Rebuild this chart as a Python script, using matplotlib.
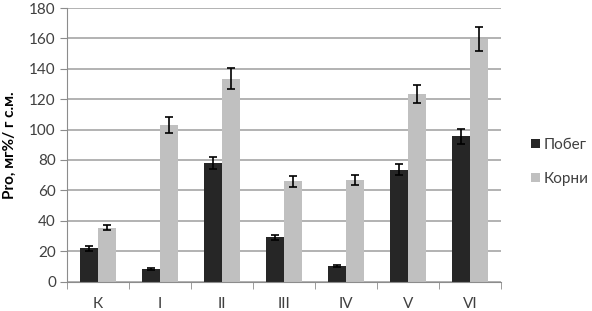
import matplotlib
matplotlib.use("Agg")
import matplotlib.pyplot as plt
import numpy as np

categories = ["К", "I", "II", "III", "IV", "V", "VI"]
pobeg = [22, 8.3, 78, 29, 10.3, 73.5, 95.5]
pobeg_err = [1.6, 0.8, 4.2, 1.5, 0.7, 3.7, 5]
korni = [35.3, 103, 133.5, 66, 67, 123.5, 159.5]
korni_err = [1.7, 5, 6.8, 3.7, 3.3, 6, 8]
yticks = [0, 20, 40, 60, 80, 100, 120, 140, 160, 180]

plt.rcParams['font.family'] = ['Lato', 'DejaVu Sans']

fig = plt.figure(figsize=(5.92, 3.11), dpi=100)
ax = fig.add_axes([67/592, 1-281.5/311, 434/592, 273.5/311])

x = np.arange(len(categories))
w = 0.295
dark = "#262626"
light = "#c0c0c0"
ax.bar(x - w/2, pobeg, w, color=dark, label="Побег", zorder=2)
ax.bar(x + w/2, korni, w, color=light, label="Корни", zorder=2)
ekw = dict(fmt="none", ecolor="black", elinewidth=1.2, capsize=3, capthick=1.2, zorder=3)
ax.errorbar(x - w/2, pobeg, yerr=pobeg_err, **ekw)
ax.errorbar(x + w/2, korni, yerr=korni_err, **ekw)

ax.set_xlim(-0.5, len(categories) - 0.5)
ax.set_ylim(0, 180)
ax.set_yticks(yticks)
ax.yaxis.grid(True, color="#a6a6a6", linewidth=1.2, zorder=0)
ax.set_axisbelow(True)

for s in ["top", "right"]:
    ax.spines[s].set_visible(False)
ax.spines["left"].set_color("#8c8c8c")
ax.spines["bottom"].set_color("#8c8c8c")

ax.set_xticks(x)
ax.set_xticklabels(categories)
ax.tick_params(axis="x", length=0, pad=11, labelsize=11, labelcolor="#404040")
ax.set_xticks(np.arange(-0.5, len(categories) + 0.5, 1), minor=True)
ax.tick_params(axis="x", which="minor", length=5, color="#8c8c8c", direction="out")
ax.tick_params(axis="y", length=5, color="#8c8c8c", labelsize=11, labelcolor="#404040", pad=3)

ax.set_ylabel("Pro, мг%/ г с.м.", fontsize=11, fontweight="bold", labelpad=9)

leg = fig.legend(loc="upper left", bbox_to_anchor=(525/592, 1-132/311), frameon=False,
                 handlelength=0.55, handleheight=0.55, handletextpad=0.3,
                 labelspacing=1.3, fontsize=11, borderaxespad=0)
for t in leg.get_texts():
    t.set_color("#404040")

fig.savefig("out.png", dpi=100)
